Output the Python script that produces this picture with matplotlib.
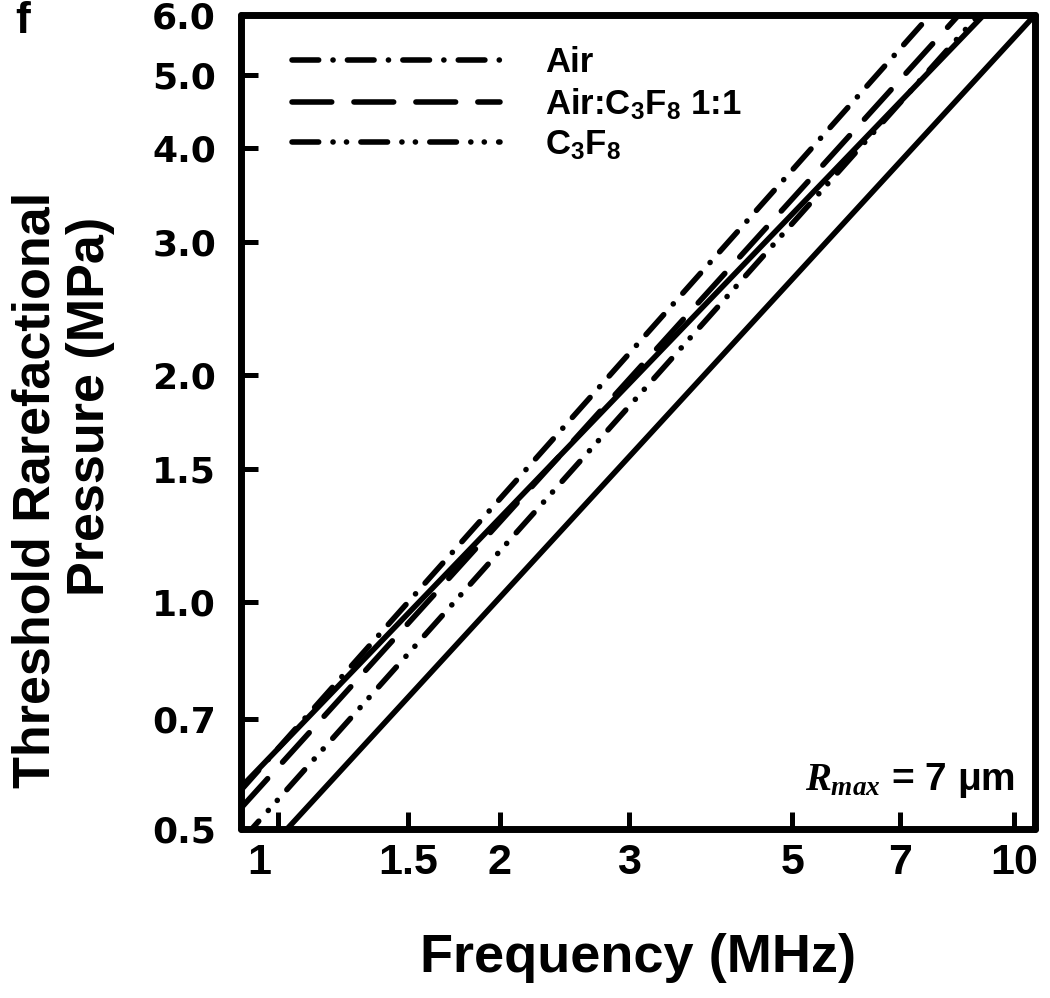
import matplotlib
matplotlib.use('Agg')
import matplotlib.pyplot as plt
import matplotlib.transforms as mtransforms
from matplotlib.ticker import FixedLocator, FixedFormatter, NullLocator

"""
Threshold rarefactional pressure vs frequency, Rmax = 7 um (panel f)
"""

# frequencies (MHz) at the left and right edges of the plot
freq = [0.89, 10.68]

# pressures (MPa) read at those two frequencies
p_air = [0.563, 8.6]
p_mix = [0.533, 7.76]
p_c3f8 = [0.482, 7.28]
p_solid_upper = [0.568, 7.06]
p_solid_lower = [0.429, 6.0]

legend_labels = ['Air', 'Air:C$_3$F$_8$ 1:1', 'C$_3$F$_8$']

xticks = [1, 1.5, 2, 3, 5, 7, 10]
xtick_labels = ['1', '1.5', '2', '3', '5', '7', '10']
yticks = [0.5, 0.7, 1.0, 1.5, 2.0, 3.0, 4.0, 5.0, 6.0]
ytick_labels = ['0.5', '0.7', '1.0', '1.5', '2.0', '3.0', '4.0', '5.0', '6.0']

plt.rcParams['font.family'] = ['Liberation Sans', 'DejaVu Sans']
plt.rcParams['font.weight'] = 'bold'
plt.rcParams['mathtext.default'] = 'regular'
plt.rcParams['mathtext.fontset'] = 'custom'
plt.rcParams['mathtext.it'] = 'Liberation Serif:italic:bold'
plt.rcParams['lines.scale_dashes'] = False


def plot_thresholds(figsize=(10.5, 9.98), save_path='out.png'):
    fig = plt.figure(figsize=figsize, dpi=100)
    ax = fig.add_axes([0.2295, 0.1693, 0.7562, 0.8157])
    ax.set_xscale('log')
    ax.set_yscale('log')

    lw = 4.0
    kw = dict(color='black', lw=lw, dash_capstyle='round', solid_capstyle='round')
    ax.plot(freq, p_solid_lower, **kw)
    ax.plot(freq, p_solid_upper, **kw)
    ax.plot(freq, p_air, dashes=(19.2, 10.3, 0.1, 10.3), label=legend_labels[0], **kw)
    ax.plot(freq, p_mix, dashes=(28.6, 16.0), label=legend_labels[1], **kw)
    ax.plot(freq, p_c3f8, dashes=(19.2, 10.3, 0.1, 9.6, 0.1, 10.3), label=legend_labels[2], **kw)

    ax.set_xlim(0.89, 10.68)
    ax.set_ylim(0.5, 6.0)

    ax.xaxis.set_major_locator(FixedLocator(xticks))
    ax.xaxis.set_major_formatter(FixedFormatter(xtick_labels))
    ax.yaxis.set_major_locator(FixedLocator(yticks))
    ax.yaxis.set_major_formatter(FixedFormatter(ytick_labels))
    ax.xaxis.set_minor_locator(NullLocator())
    ax.yaxis.set_minor_locator(NullLocator())

    for s in ax.spines.values():
        s.set_linewidth(5)
        s.set_capstyle('round')
    ax.tick_params(direction='in', length=12, width=3.6)
    ax.tick_params(axis='x', pad=10, labelsize=31)
    ax.tick_params(axis='y', pad=18, labelsize=26)
    for t in ax.get_yticklabels():
        t.set_family('DejaVu Sans')
        t.set_weight('bold')
    # the "1" label sits a bit left of its tick in the original
    t1 = ax.get_xticklabels()[0]
    t1.set_transform(t1.get_transform() + mtransforms.ScaledTranslation(-0.19, 0, fig.dpi_scale_trans))

    ax.set_xlabel('Frequency (MHz)', fontsize=39, fontweight='bold', labelpad=36)
    fig.text(0.034, 1 - 490 / 998, 'Threshold Rarefactional', rotation=90, fontsize=37.5,
             fontweight='bold', ha='center', va='center')
    fig.text(0.086, 1 - 406 / 998, 'Pressure (MPa)', rotation=90, fontsize=37.5,
             fontweight='bold', ha='center', va='center')

    ax.legend(loc='upper left', bbox_to_anchor=(0.064, 0.962), frameon=False, fontsize=25,
              handlelength=6.0, handletextpad=1.3, labelspacing=0.2, borderpad=0, borderaxespad=0)

    ax.text(0.975, 0.06, r'$\mathit{R_{max}}$ = 7 μm', transform=ax.transAxes, ha='right', va='center',
            fontsize=28, fontweight='bold')
    fig.text(0.022, 0.999, 'f', fontsize=32, fontweight='bold', ha='center', va='top')

    plt.savefig(save_path) if save_path else plt.show()


if __name__ == '__main__':
    plot_thresholds()
